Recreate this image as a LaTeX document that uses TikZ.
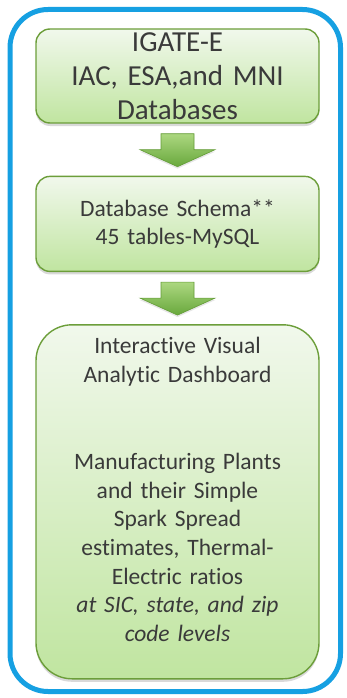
\documentclass[tikz,border=0pt]{standalone}
\usepackage{fontspec}
\setmainfont{Carlito}[Ligatures=NoCommon]
\usetikzlibrary{calc,positioning,shadows}
\usepackage{xcolor}

\definecolor{frameblue}{RGB}{22,160,226}
\definecolor{boxtop}{RGB}{241,248,236}
\definecolor{boxbot}{RGB}{192,229,160}
\definecolor{boxline}{RGB}{108,158,58}
\definecolor{arrowtop}{RGB}{172,215,128}
\definecolor{arrowbot}{RGB}{104,168,60}
\definecolor{arrowline}{RGB}{100,156,56}
\definecolor{inktext}{RGB}{58,58,58}

\tikzset{
  greenbox/.style={draw=boxline, line width=1.4pt, rounded corners=14pt,
    top color=boxtop, bottom color=boxbot, text=inktext, align=center,
    text width=275pt, minimum width=283pt, inner sep=0pt,
    drop shadow={shadow xshift=0pt, shadow yshift=-3pt, opacity=0.3}},
  bigarrow/.style={draw=arrowline, line width=0.6pt, top color=arrowtop, bottom color=arrowbot,
    drop shadow={shadow xshift=0pt, shadow yshift=-2pt, opacity=0.2}}
}

\begin{document}
\begin{tikzpicture}[x=1pt,y=1pt,node distance=52pt]
\useasboundingbox (0,0) rectangle (346,-698);
% outer frame
\draw [frameblue,line width=5pt,rounded corners=38pt] (10,-9.5) rectangle (340.5,-691.5);

% boxes
\node [greenbox,minimum height=94pt,font=\fontsize{29}{34}\selectfont] (igate) at (177.5,-76)
  {IGATE-E\\IAC, ESA,and MNI\\Databases};
\node [greenbox,minimum height=95pt,font=\fontsize{23.5}{28}\selectfont,below=of igate] (schema)
  {Database Schema**\\45 tables-MySQL};
\node [greenbox,minimum height=354pt,rounded corners=36pt,text depth=312pt,
  font=\fontsize{23.5}{28.7}\selectfont,below=of schema] (dash)
  {Interactive Visual\\Analytic Dashboard\\[58pt]
   Manufacturing Plants\\and their Simple\\Spark Spread\\estimates, Thermal-\\Electric ratios\\
   \textit{at SIC, state, and zip}\\\textit{code levels}};

% block arrows between the boxes
\foreach \a/\b in {igate/schema,schema/dash}{
  \coordinate (mid) at ($(\a.south)!0.5!(\b.north)$);
  \draw [bigarrow] ($(mid)+(-16.5,16)$) -- ($(mid)+(16.5,16)$) -- ($(mid)+(16.5,0)$)
    -- ($(mid)+(37.5,0)$) -- ($(mid)+(0,-17)$) -- ($(mid)+(-37.5,0)$) -- ($(mid)+(-16.5,0)$) -- cycle;
}
\end{tikzpicture}
\end{document}
